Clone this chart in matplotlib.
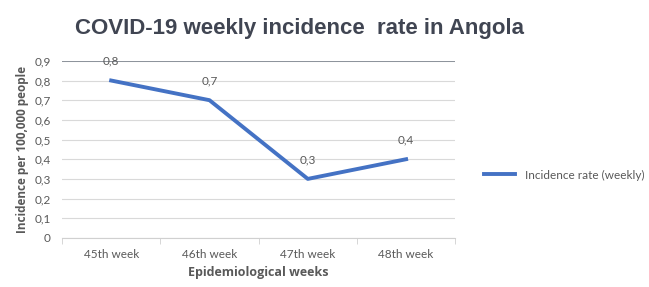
import matplotlib
matplotlib.use("Agg")
import matplotlib.pyplot as plt

weeks = ["45th week", "46th week", "47th week", "48th week"]
incidence = [0.8, 0.7, 0.3, 0.4]
yticks = [0, 0.1, 0.2, 0.3, 0.4, 0.5, 0.6, 0.7, 0.8, 0.9]

grey = "#595959"
blue = "#4472C4"

fig = plt.figure(figsize=(6.49, 2.87), dpi=100)
ax = fig.add_axes([0.0955, 0.171, 0.606, 0.617])

x = list(range(len(weeks)))
ax.plot(x, incidence, color=blue, lw=2.8, label="Incidence rate (weekly)", zorder=3)
for xi, v in zip(x, incidence):
    ax.annotate(f"{v:.1f}".replace(".", ","), (xi, v), xytext=(0, 10), textcoords="offset points",
                ha="center", va="bottom", fontsize=8.5, color=grey, family="Lato")

ax.set_xlim(-0.5, 3.5)
ax.set_ylim(0, 0.9)
ax.set_yticks(yticks)
ax.set_yticklabels(["0" if t == 0 else f"{t:.1f}".replace(".", ",") for t in yticks],
                   fontsize=8.5, color=grey, family="Lato")
ax.set_xticks(x)
ax.set_xticklabels(weeks, fontsize=8.5, color=grey, family="Lato")
ax.tick_params(axis="y", length=0, pad=8)
ax.tick_params(axis="x", length=0, pad=8)
ax.set_xticks([-0.5, 0.5, 1.5, 2.5, 3.5], minor=True)
ax.tick_params(axis="x", which="minor", length=4, color="#d0d0d0")

ax.grid(axis="y", color="#d9d9d9", lw=0.8)
for s in ["left", "right", "top"]:
    ax.spines[s].set_visible(False)
ax.spines["bottom"].set_color("#d0d0d0")
ax.axhline(0.9, color="#7f8790", lw=1.2, zorder=2)

ax.set_ylabel("Incidence per 100,000 people", fontsize=8.5, color=grey, fontweight="bold", family="Open Sans", labelpad=4)
ax.set_xlabel("Epidemiological weeks", fontsize=9, color=grey, fontweight="bold", family="Open Sans", labelpad=4)

fig.text(0.462, 0.9, "COVID-19 weekly incidence  rate in Angola", ha="center", va="center",
         fontsize=16, color="#404552", family="Liberation Sans", fontweight="bold")

fig.legend(loc="center left", bbox_to_anchor=(0.73, 0.39), frameon=False,
           prop={"family": "Lato", "size": 8.5}, labelcolor=grey, handlelength=2.6)

fig.savefig("out.png", dpi=100)
